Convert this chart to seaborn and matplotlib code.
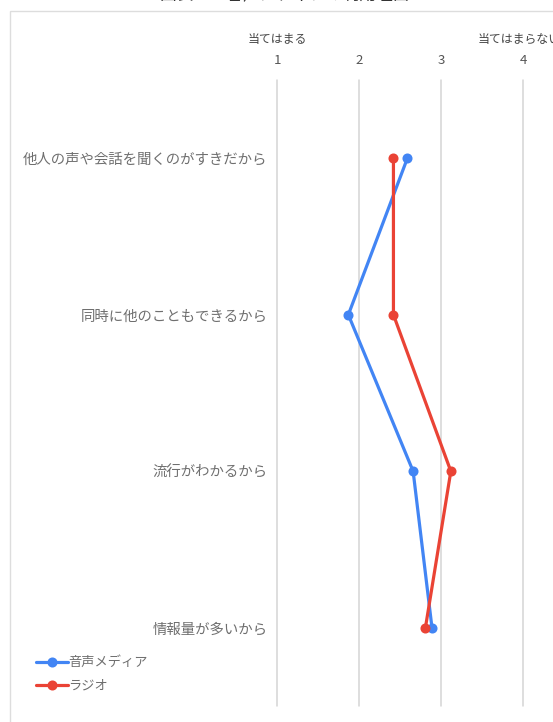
import matplotlib
matplotlib.use("Agg")
import matplotlib.pyplot as plt
import seaborn as sns
import pandas as pd
from matplotlib.patches import Rectangle

categories = ["他人の声や会話を聞くのがすきだから", "同時に他のこともできるから", "流行がわかるから", "情報量が多いから"]
series_names = ["音声メディア", "ラジオ"]
voice_media = [2.59, 1.87, 2.66, 2.89]
radio = [2.42, 2.42, 3.12, 2.81]
x_ticks = [1, 2, 3, 4]
x_tick_labels = ["1", "2", "3", "4"]
scale_low_label = "当てはまる"
scale_high_label = "当てはまらない"
title = "図表　　音声メディアの利用理由"
colors = ["#4285F4", "#EA4335"]

sns.set_theme(style="white")
plt.rcParams['font.family'] = ['Noto Sans CJK JP', 'DejaVu Sans']

df = pd.DataFrame({
    "category": categories * 2,
    "value": voice_media + radio,
    "series": [series_names[0]] * 4 + [series_names[1]] * 4,
})

fig = plt.figure(figsize=(5.53, 7.22), dpi=100)
W, H = 553, 722
ax = fig.add_axes([277 / W, 1 - 706 / H, (523 - 277) / W, (706 - 80) / H])

sns.pointplot(data=df, x="value", y="category", hue="series", order=categories,
              hue_order=series_names, palette=colors, orient="h", errorbar=None,
              markers="o", markersize=5.5, linewidth=2.3, ax=ax)
for coll in ax.collections:
    coll.set_clip_on(False)
for ln in ax.lines:
    ln.set_clip_on(False)

handles, labels = ax.get_legend_handles_labels()
if ax.get_legend() is not None:
    ax.get_legend().remove()

ax.set_xlim(1, 4)
ax.set_ylim(3.5, -0.5)
ax.set_xlabel("")
ax.set_ylabel("")
ax.xaxis.tick_top()
ax.set_xticks(x_ticks)
ax.set_xticklabels(x_tick_labels, fontsize=9.5, color="#555555")
ax.tick_params(axis="x", length=0, pad=9)
ax.tick_params(axis="y", length=0, pad=7, labelsize=10.4, labelcolor="#6f6f6f")
ax.grid(axis="x", color="#d4d4d4", linewidth=1.1)
ax.grid(axis="y", visible=False)
for gl in ax.get_xgridlines():
    gl.set_clip_on(False)
    gl.set_zorder(0.5)
for s in ax.spines.values():
    s.set_visible(False)

ax.text(x_ticks[0], 1.064, scale_low_label, transform=ax.get_xaxis_transform(),
        ha="center", va="center", fontsize=8.6, color="#444444")
ax.text(x_ticks[-1] - 0.05, 1.064, scale_high_label, transform=ax.get_xaxis_transform(),
        ha="center", va="center", fontsize=8.6, color="#444444")

fig.patches.append(Rectangle((10 / W, -0.1), 1.2, 1 - 11 / H + 0.1, transform=fig.transFigure,
                             fill=False, edgecolor="#dddddd", linewidth=1))
fig.text(285 / W, 1 - 3 / H, title, ha="center", va="bottom", fontsize=12, color="#333333")

leg = fig.legend(handles, labels, loc="upper left", bbox_to_anchor=(31 / W, 1 - 651 / H),
                 frameon=False, fontsize=9.5, labelcolor="#6f6f6f", handlelength=2.4,
                 handletextpad=0.05, labelspacing=0.75, borderaxespad=0)

fig.savefig("out.png", dpi=100)
